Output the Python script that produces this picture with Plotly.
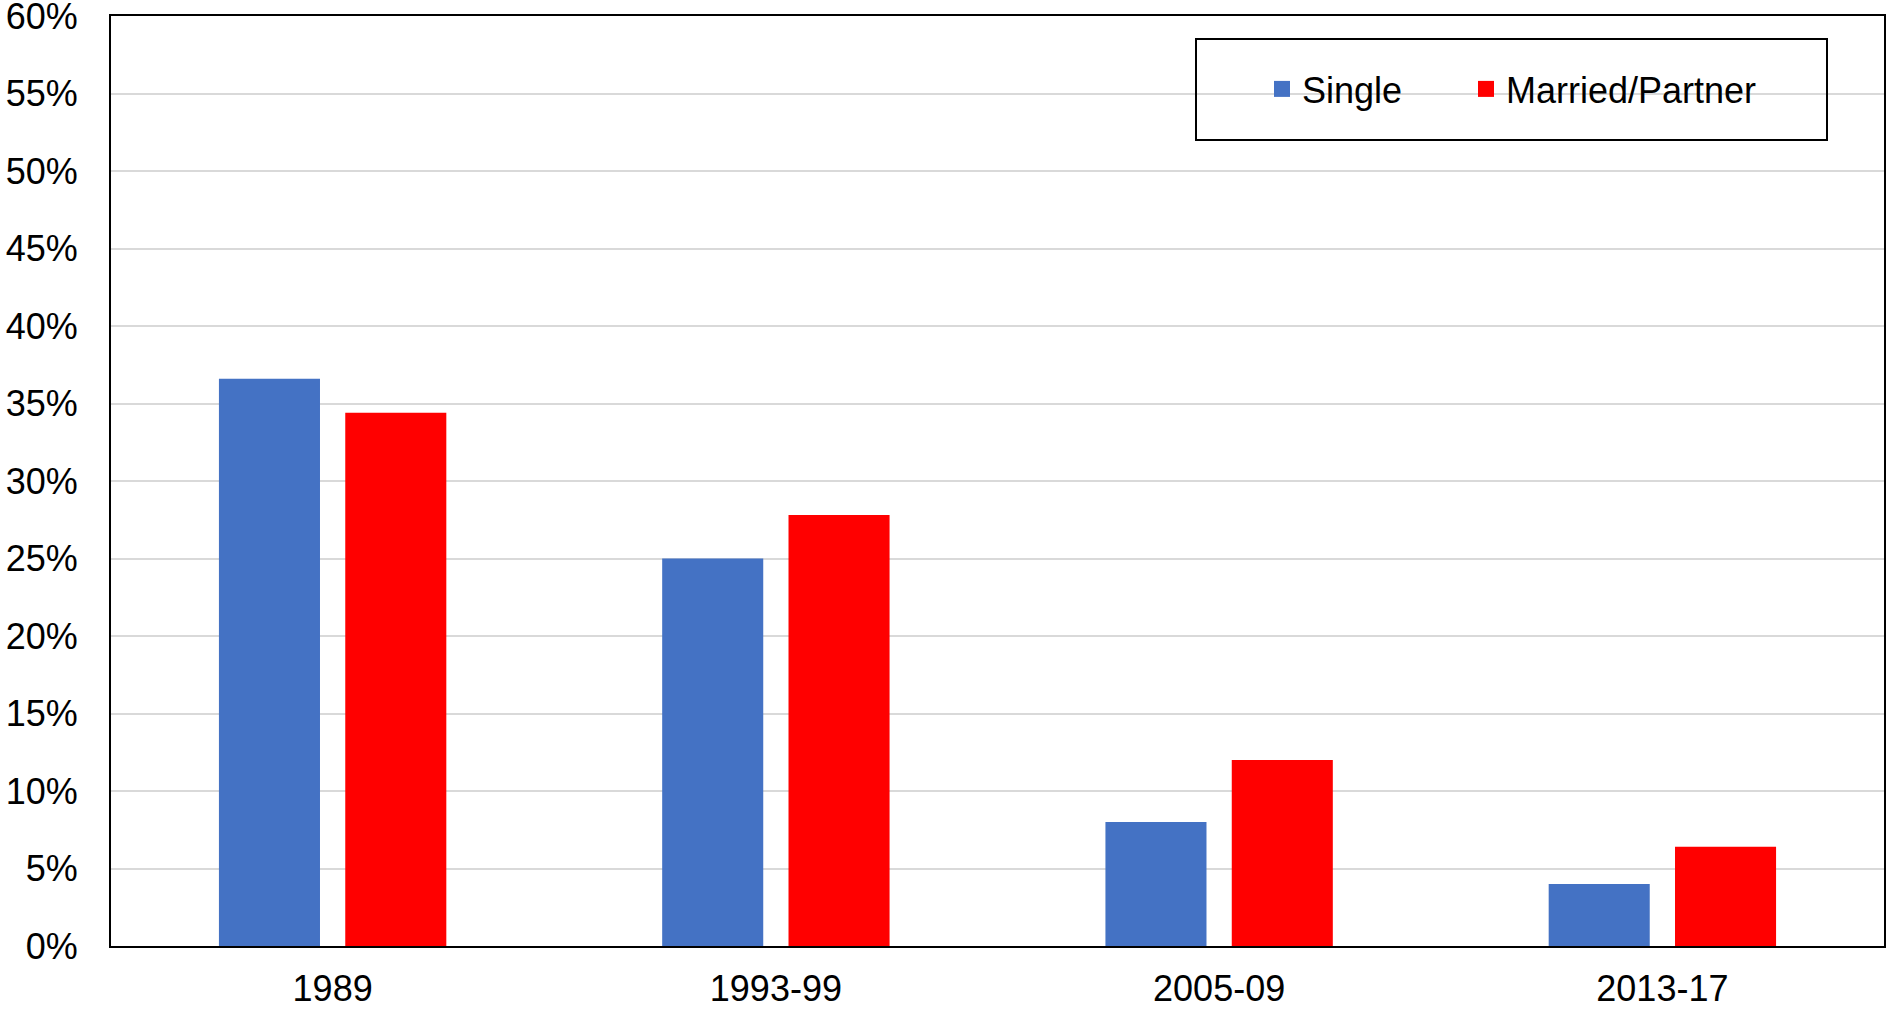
import plotly.graph_objects as go

categories = ["1989", "1993-99", "2005-09", "2013-17"]
single = [0.366, 0.250, 0.080, 0.040]
married = [0.344, 0.278, 0.120, 0.064]
y_ticks = [0, 0.05, 0.10, 0.15, 0.20, 0.25, 0.30, 0.35, 0.40, 0.45, 0.50, 0.55, 0.60]

FONT = "Arial, Liberation Sans, sans-serif"
BLUE, RED = "#4472C4", "#FF0000"

fig = go.Figure()
fig.add_trace(go.Bar(name="Single", x=categories, y=single, marker_color=BLUE,
                     marker_line_width=0, showlegend=False))
fig.add_trace(go.Bar(name="Married/Partner", x=categories, y=married, marker_color=RED,
                     marker_line_width=0, showlegend=False))
# legend entries (square swatches like the original)
fig.add_trace(go.Scatter(name="Single", x=[None], y=[None], mode="markers",
                         marker=dict(symbol="square", size=16, color=BLUE),
                         legend="legend", showlegend=True))
fig.add_trace(go.Scatter(name="Married/Partner", x=[None], y=[None], mode="markers",
                         marker=dict(symbol="square", size=16, color=RED),
                         legend="legend2", showlegend=True))

W, H = 1887, 1009
ml, mr, mt, mb = 111, 3, 16, 63
pw, ph = W - ml - mr, H - mt - mb

def px_x(x):
    return (x - ml) / pw

def px_y(y):
    return 1 - (y - mt) / ph

leg_common = dict(orientation="h", xanchor="left", yanchor="middle",
                  bgcolor="rgba(0,0,0,0)", borderwidth=0, itemsizing="trace",
                  font=dict(family=FONT, size=36, color="black"))

fig.update_layout(
    width=W, height=H,
    margin=dict(l=ml, r=mr, t=mt, b=mb, pad=0, autoexpand=False),
    paper_bgcolor="white", plot_bgcolor="white",
    font=dict(family=FONT, size=36, color="black"),
    barmode="group", bargap=0.43, bargroupgap=0.2,
    showlegend=True,
    legend=dict(x=px_x(1262), y=px_y(89), **leg_common),
    legend2=dict(x=px_x(1466), y=px_y(89), **leg_common),
    shapes=[dict(type="rect", xref="paper", yref="paper",
                 x0=px_x(1196), x1=px_x(1827), y0=px_y(39), y1=px_y(140),
                 line=dict(color="black", width=2), fillcolor="rgba(0,0,0,0)", layer="above")],
)

fig.update_xaxes(
    showline=True, linecolor="black", linewidth=2, mirror=True, automargin=False,
    showgrid=False, ticks="", ticklabelstandoff=10,
    tickfont=dict(family=FONT, size=36, color="black"),
)
fig.update_yaxes(
    range=[0, 0.6], tickvals=y_ticks, tickformat=".0%", automargin=False,
    showline=True, linecolor="black", linewidth=2, mirror=True,
    showgrid=True, gridcolor="#D9D9D9", gridwidth=2, ticklabeloverflow="allow",
    ticks="", ticklabelstandoff=24, zeroline=False,
    tickfont=dict(family=FONT, size=36, color="black"),
)

fig.write_html("out.html", config={"displayModeBar": False},
               post_script="document.body.style.margin='0';")
